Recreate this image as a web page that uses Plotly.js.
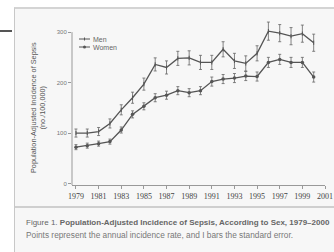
<!DOCTYPE html>
<html><head><meta charset="utf-8">
<script src="https://cdn.plot.ly/plotly-3.0.1.min.js"></script>
<style>
html,body{margin:0;padding:0;background:#fff;width:334px;height:252px;overflow:hidden;}
#panel{position:absolute;left:14px;top:7px;width:330px;height:250px;background:#f7f7f7;border-left:1px solid #c8c8c8;border-top:2px solid #d4d4d4;}
#sep{position:absolute;left:15px;top:206px;width:330px;height:2px;background:#cfcfcf;}
#bar{position:absolute;left:0;top:30px;width:12px;height:2px;background:#555;}
#chart{position:absolute;left:0;top:0;}
</style></head>
<body>
<div id="panel"></div><div id="sep"></div><div id="bar"></div>
<div id="chart"></div>
<script>
const years = [1979,1980,1981,1982,1983,1984,1985,1986,1987,1988,1989,1990,1991,1992,1993,1994,1995,1996,1997,1998,1999,2000];
const menRate   = [100,100,103,119,146,170,197,236,230,248,249,240,240,266,243,238,258,302,298,292,297,279];
const menSE     = [8,8,8,9,10,11,12,13,13,14,14,14,14,15,15,15,15,18,17,17,17,17];
const womenRate = [72,75,79,83,106,137,153,170,175,184,180,184,202,207,209,213,212,240,246,240,240,211];
const womenSE   = [5,5,5,5,6,7,7,8,8,8,8,8,9,9,9,9,9,10,10,10,10,10];
const xTicks = [1979,1981,1983,1985,1987,1989,1991,1993,1995,1997,1999,2001];
const yTicks = [0,100,200,300];
const yAxisTop = 300;

const lineCol = '#555';
const traces = [
 {x:years,y:menRate,name:'Men',type:'scatter',mode:'lines+markers',cliponaxis:false,
  line:{color:lineCol,width:1.3},marker:{color:lineCol,size:3,symbol:'line-ns',line:{width:1,color:lineCol}},
  error_y:{type:'data',array:menSE,visible:true,color:'#666',thickness:0.8,width:1.5}},
 {x:years,y:womenRate,name:'Women',type:'scatter',mode:'lines+markers',cliponaxis:false,
  line:{color:lineCol,width:1.3},marker:{color:lineCol,size:3.5,symbol:'circle'},
  error_y:{type:'data',array:womenSE,visible:true,color:'#666',thickness:0.8,width:1.5}}
];
const L=72, R=9, T=17, B=67;
const pw = 334-L-R, ph = 252-T-B;
function px(x){return (x-L)/pw;}
function py(y){return (252-B-y)/ph;}
const font = 'Liberation Sans, sans-serif';
const layout = {
 width:334,height:252,margin:{l:L,r:R,t:T,b:B,pad:0},
 paper_bgcolor:'rgba(0,0,0,0)',plot_bgcolor:'rgba(0,0,0,0)',
 showlegend:false,
 xaxis:{range:[1978.65,2001],tickvals:xTicks,ticktext:xTicks.map(String),showgrid:false,zeroline:false,
   showline:true,linecolor:'#999',linewidth:1,ticks:'outside',ticklen:3,tickcolor:'#999',
   tickfont:{family:'Liberation Serif, DejaVu Serif, serif',size:8,color:'#444'}},
 yaxis:{range:[-3,330],tickvals:yTicks,showgrid:false,zeroline:false,
   showline:false,ticks:'outside',ticklen:3,tickcolor:'#999',
   tickfont:{family:font,size:6,color:'#777'}},
 shapes:[
  {type:'line',xref:'paper',yref:'y',x0:0,x1:0,y0:-3,y1:yAxisTop,line:{color:'#999',width:1}},
  {type:'line',xref:'paper',yref:'paper',x0:px(79),x1:px(90),y0:py(39),y1:py(39),line:{color:lineCol,width:1}},
  {type:'line',xref:'paper',yref:'paper',x0:px(84.5),x1:px(84.5),y0:py(37.5),y1:py(40.5),line:{color:lineCol,width:1}},
  {type:'line',xref:'paper',yref:'paper',x0:px(79),x1:px(90),y0:py(47),y1:py(47),line:{color:lineCol,width:1}},
  {type:'circle',xref:'paper',yref:'paper',x0:px(83),x1:px(86),y0:py(45.5),y1:py(48.5),fillcolor:lineCol,line:{color:lineCol,width:0}}
 ],
 annotations:[
  {xref:'paper',yref:'paper',x:px(91),y:py(39),xanchor:'left',yanchor:'middle',showarrow:false,text:'Men',
   font:{family:font,size:7,color:'#666'}},
  {xref:'paper',yref:'paper',x:px(91),y:py(47),xanchor:'left',yanchor:'middle',showarrow:false,text:'Women',
   font:{family:font,size:7,color:'#666'}},
  {xref:'paper',yref:'paper',x:px(38),y:py(108),xanchor:'center',yanchor:'middle',showarrow:false,textangle:-90,
   text:'Population-Adjusted Incidence of Sepsis<br>(no./100,000)',
   font:{family:font,size:7.3,color:'#555'}},
  {xref:'paper',yref:'paper',x:px(24),y:py(222),xanchor:'left',yanchor:'middle',showarrow:false,
   text:'Figure 1. <b>Population-Adjusted Incidence of Sepsis, According to Sex, 1979–2000</b>',
   font:{family:'Liberation Sans Narrow, Liberation Sans, sans-serif',size:8,color:'#666'}},
  {xref:'paper',yref:'paper',x:px(24),y:py(235),xanchor:'left',yanchor:'middle',showarrow:false,
   text:'Points represent the annual incidence rate, and I bars the standard error.',
   font:{family:'Liberation Sans Narrow, Liberation Sans, sans-serif',size:8.3,color:'#777'}}
 ]
};
Plotly.newPlot('chart',traces,layout,{displayModeBar:false,staticPlot:true});
</script>
</body></html>
